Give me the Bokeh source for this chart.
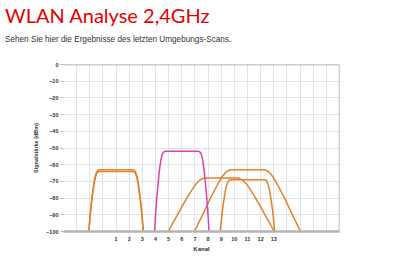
from bokeh.plotting import figure
from bokeh.models import Range1d, FixedTicker, Span, Div
from bokeh.layouts import column
from bokeh.embed import file_html
from bokeh.resources import INLINE

# ---- data ----
title_text = "WLAN Analyse 2,4GHz"
subtitle_text = "Sehen Sie hier die Ergebnisse des letzten Umgebungs-Scans."
x_tick_labels = list(range(1, 14))
y_ticks = [0, -10, -20, -30, -40, -50, -60, -70, -80, -90, -100]

ch1a_x = [-1.07, -0.99, -0.90, -0.80, -0.69, -0.58, -0.48, -0.38, -0.28,
          2.28, 2.38, 2.48, 2.58, 2.69, 2.80, 2.90, 2.99, 3.07]
ch1a_y = [-100, -91.9, -84.5, -77.8, -71.1, -66.7, -64.3, -63.3, -63.0,
          -63.0, -63.3, -64.3, -66.7, -71.1, -77.8, -84.5, -91.9, -100]
ch1b_y = [-100, -92.1, -84.9, -78.4, -71.9, -67.6, -65.3, -64.3, -64.0,
          -64.0, -64.3, -65.3, -67.6, -71.9, -78.4, -84.9, -92.1, -100]
ch6_x = [3.93, 4.01, 4.10, 4.20, 4.31, 4.42, 4.52, 4.62, 4.72,
         7.28, 7.38, 7.48, 7.58, 7.69, 7.80, 7.90, 7.99, 8.07]
ch6_y = [-100, -89.4, -79.8, -71.2, -62.6, -56.8, -53.7, -52.4, -52.0,
         -52.0, -52.4, -53.7, -56.8, -62.6, -71.2, -79.8, -89.4, -100]
ch11d_x = [8.93, 9.01, 9.10, 9.20, 9.31, 9.42, 9.52, 9.62, 9.72,
           12.28, 12.38, 12.48, 12.58, 12.69, 12.80, 12.90, 12.99, 13.07]
ch11d_y = [-100, -93.2, -87.0, -81.4, -75.8, -72.1, -70.1, -69.2, -69.0,
           -69.0, -69.2, -70.1, -72.1, -75.8, -81.4, -87.0, -93.2, -100]
ch9_x = [4.97, 5.30, 5.65, 6.00, 6.35, 6.70, 7.05, 7.35, 7.60, 7.72,
         10.28, 10.40, 10.65, 10.95, 11.30, 11.65, 12.00, 12.35, 12.70, 13.03]
ch9_y = [-100, -95.2, -90.4, -85.3, -80.5, -76.0, -71.8, -69.3, -68.3, -68.0,
         -68.0, -68.3, -69.3, -71.8, -76.0, -80.5, -85.3, -90.4, -95.2, -100]
ch11c_x = [6.97, 7.30, 7.65, 8.00, 8.35, 8.70, 9.05, 9.35, 9.60, 9.72,
           12.28, 12.40, 12.65, 12.95, 13.30, 13.65, 14.00, 14.35, 14.70, 15.03]
ch11c_y = [-100, -94.5, -88.9, -83.0, -77.4, -72.3, -67.4, -64.5, -63.3, -63.0,
           -63.0, -63.3, -64.5, -67.4, -72.3, -77.4, -83.0, -88.9, -94.5, -100]

ORANGE = "#e3812b"
MAGENTA = "#e040ac"

p = figure(width=395, height=213, output_backend="svg", toolbar_location=None,
           x_range=Range1d(-3, 18), y_range=Range1d(-100, 0),
           min_border_left=63, min_border_right=56, min_border_top=14,
           min_border_bottom=32)
p.outline_line_color = None
p.background_fill_color = "white"
p.border_fill_color = "white"

# grids
p.xgrid.ticker = FixedTicker(ticks=list(range(-2, 18)))
p.xgrid.grid_line_color = "#e4e4e4"
p.ygrid.ticker = FixedTicker(ticks=y_ticks[1:-1])
p.ygrid.grid_line_color = "#e4e4e4"

# axes
p.xaxis.ticker = FixedTicker(ticks=x_tick_labels)
p.xaxis.axis_line_color = "#b4b4b4"
p.xaxis.axis_line_width = 2.5
p.xaxis.major_tick_line_color = None
p.xaxis.minor_tick_line_color = None
p.xaxis.major_tick_out = 0
p.xaxis.major_tick_in = 0
p.xaxis.major_label_standoff = 5
p.xaxis.major_label_text_font = "Liberation Sans"
p.xaxis.major_label_text_font_style = "bold"
p.xaxis.major_label_text_font_size = "5.5px"
p.xaxis.major_label_text_color = "#333333"
p.xaxis.axis_label = "Kanal"
p.xaxis.axis_label_text_font = "Liberation Sans"
p.xaxis.axis_label_text_font_style = "bold"
p.xaxis.axis_label_text_font_size = "6px"
p.xaxis.axis_label_text_color = "#333333"
p.xaxis.axis_label_standoff = 2

p.yaxis.ticker = FixedTicker(ticks=y_ticks)
p.yaxis.axis_line_color = None
p.yaxis.major_tick_line_color = "#b4b4b4"
p.yaxis.major_tick_out = 3
p.yaxis.major_tick_in = 0
p.yaxis.minor_tick_line_color = None
p.yaxis.major_label_standoff = 2
p.yaxis.major_label_text_font = "Liberation Sans"
p.yaxis.major_label_text_font_style = "bold"
p.yaxis.major_label_text_font_size = "5.5px"
p.yaxis.major_label_text_color = "#333333"
p.yaxis.axis_label = "Signalstärke (dBm)"
p.yaxis.axis_label_text_font = "Liberation Sans"
p.yaxis.axis_label_text_font_style = "bold"
p.yaxis.axis_label_text_font_size = "5.5px"
p.yaxis.axis_label_text_color = "#333333"
p.yaxis.axis_label_standoff = 4

# frame borders
p.add_layout(Span(location=0, dimension="width", line_color="#999999", line_width=1.5))
p.add_layout(Span(location=18, dimension="height", line_color="#aaaaaa", line_width=1.5))

# curves
p.line(ch1a_x, ch1a_y, line_color=ORANGE, line_width=1.5)
p.line(ch1a_x, ch1b_y, line_color=ORANGE, line_width=1.5)
p.line(ch9_x, ch9_y, line_color=ORANGE, line_width=1.5)
p.line(ch11c_x, ch11c_y, line_color=ORANGE, line_width=1.5)
p.line(ch11d_x, ch11d_y, line_color=ORANGE, line_width=1.5)
p.line(ch6_x, ch6_y, line_color=MAGENTA, line_width=1.5)

title_div = Div(
    text=f'<div style="font-family:Lato;font-size:20px;line-height:20px;'
         f'color:#e60000;padding:5px 0 0 5px;white-space:nowrap">{title_text}</div>',
    width=395, height=30, margin=(0, 0, 0, 0))
sub_div = Div(
    text=f'<div style="font-family:\'Liberation Sans\';font-size:8.2px;line-height:10px;'
         f'color:#333333;padding:4px 0 0 5px;white-space:nowrap">{subtitle_text}</div>',
    width=395, height=20, margin=(0, 0, 0, 0))

layout = column(title_div, sub_div, p, spacing=0, margin=(0, 0, 0, 0))

open("out.html", "w").write(file_html(layout, INLINE))
